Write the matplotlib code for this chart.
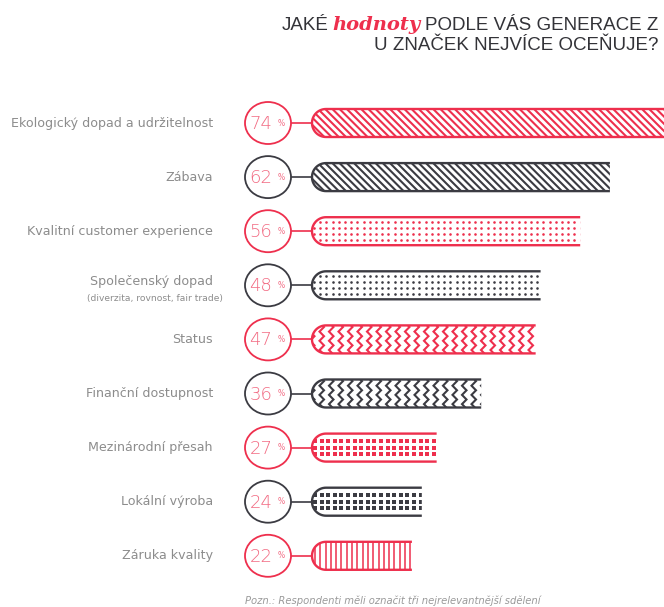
import numpy as np
import matplotlib
matplotlib.use("Agg")
import matplotlib.pyplot as plt
from matplotlib.path import Path
from matplotlib.patches import PathPatch, Ellipse
from matplotlib.collections import LineCollection

categories = ["Ekologický dopad a udržitelnost", "Zábava", "Kvalitní customer experience",
              "Společenský dopad", "Status", "Finanční dostupnost",
              "Mezinárodní přesah", "Lokální výroba", "Záruka kvality"]
values = [74, 62, 56, 48, 47, 36, 27, 24, 22]
sublabels = {3: "(diverzita, rovnost, fair trade)"}
patterns = ["diag", "diag", "dots", "dots", "zigzag", "zigzag", "grid", "grid", "vlines"]

RED = "#ee2f4d"
DARK = "#3b3b42"
PINK = "#f26a82"
GREY = "#8c8c8c"
row_colors = [RED, DARK] * 5

W, H = 664, 607
X0 = 303.0      # pixel of 0 %
SX = 4.95       # pixels per %
Y0 = 123.0      # pixel of first row
SY = 54.1       # pixels per row

fig = plt.figure(figsize=(W / 100, H / 100), dpi=100)
ax = fig.add_axes([0, 0, 1, 1])
ax.set_xlim(-X0 / SX, (W - X0) / SX)
ax.set_ylim((H - Y0) / SY, -Y0 / SY)
ax.axis("off")


def dx(p):
    return p / SX


def dy(p):
    return p / SY


bar_left = dx(9)
half_h = dy(14)
rx, ry = dx(14), dy(14)

for i, (v, c, pat) in enumerate(zip(values, row_colors, patterns)):
    top, bot = i - half_h, i + half_h
    cxl = bar_left + rx
    th = np.linspace(np.pi / 2, 3 * np.pi / 2, 30)
    arc = [(cxl + rx * np.cos(t), i - ry * np.sin(t)) for t in th]
    fill_pts = [(v, top)] + arc + [(v, bot), (v, top)]
    fill = PathPatch(Path(fill_pts, closed=True), facecolor="white", edgecolor="none", zorder=1)
    ax.add_patch(fill)

    # pattern inside the bar
    if pat == "diag":
        xs = np.arange(bar_left - dx(30), v + dx(5), dx(7.2))
        segs = [[(x, top), (x + dx(28), bot)] for x in xs]
        lc = LineCollection(segs, colors=c, linewidths=1.5, zorder=2)
        ax.add_collection(lc)
        lc.set_clip_path(fill)
    elif pat == "vlines":
        xs = np.arange(bar_left + dx(3), v, dx(5.3))
        segs = [[(x, top), (x, bot)] for x in xs]
        lc = LineCollection(segs, colors=c, linewidths=1.1, zorder=2)
        ax.add_collection(lc)
        lc.set_clip_path(fill)
    elif pat == "zigzag":
        ys = np.arange(top - dy(3), bot + dy(5), dy(4.6))
        for x in np.arange(bar_left - dx(2), v + dx(5), dx(9.5)):
            zx = [x + (dx(4.5) if j % 2 else 0) for j in range(len(ys))]
            ln, = ax.plot(zx, ys, color=c, lw=1.5, zorder=2, solid_joinstyle="miter")
            ln.set_clip_path(fill)
    elif pat == "dots":
        xs = np.arange(bar_left + dx(2), v + dx(3), dx(6.2))
        for yo in (-9, -3, 3, 9):
            sc = ax.scatter(xs, np.full_like(xs, i + dy(yo)), s=3.5, color=c, marker="o",
                            linewidths=0, zorder=2)
            sc.set_clip_path(fill)
    elif pat == "grid":
        xs = np.arange(bar_left + dx(3), v + dx(3), dx(6.6))
        for yo in (-6.5, 0, 6.5):
            sc = ax.scatter(xs, np.full_like(xs, i + dy(yo)), s=5.5, color=c, marker="s",
                            linewidths=0, zorder=2)
            sc.set_clip_path(fill)

    # outline: top, rounded left end, bottom; right end open
    out_pts = [(v, top)] + arc + [(v, bot)]
    ax.add_patch(PathPatch(Path(out_pts), facecolor="none", edgecolor=c, lw=1.7, zorder=3,
                           capstyle="butt"))

    # badge with value
    ecx = dx(268 - X0)
    ax.add_patch(Ellipse((ecx, i), dx(46), dy(42), facecolor="white", edgecolor=c,
                         lw=1.3, zorder=3))
    ax.plot([ecx + dx(23), bar_left], [i, i], color=c, lw=1.2, zorder=2)
    ax.text(ecx - dx(7), i + dy(1), str(v), ha="center", va="center", fontsize=13,
            color=PINK, family="DejaVu Sans", fontweight="light", zorder=4)
    ax.text(ecx + dx(13), i, "%", ha="center", va="center", fontsize=5.5,
            color=PINK, zorder=4)

    # category label
    lab_y = i - dy(4) if i in sublabels else i
    ax.text(dx(213 - X0), lab_y, categories[i], ha="right", va="center", fontsize=9.1,
            color=GREY, family="DejaVu Sans")
    if i in sublabels:
        ax.text(dx(223 - X0), i + dy(13), sublabels[i], ha="right", va="center",
                fontsize=6.6, color=GREY, family="DejaVu Sans")

# title, right aligned, with a red serif italic word
tsize = 13.5
fig.canvas.draw()
r = fig.canvas.get_renderer()
t3 = fig.text(658 / W, 1 - 30 / H, "PODLE VÁS GENERACE Z", ha="right", va="baseline",
              fontsize=tsize, color="#333338", family="Liberation Sans")
bb = t3.get_window_extent(r)
t2 = fig.text((bb.x0 - 4) / W, 1 - 30 / H, "hodnoty", ha="right", va="baseline",
              fontsize=tsize + 0.5, color=RED, family="DejaVu Serif", fontweight="bold",
              fontstyle="italic")
bb = t2.get_window_extent(r)
fig.text((bb.x0 - 4) / W, 1 - 30 / H, "JAKÉ", ha="right", va="baseline",
         fontsize=tsize, color="#333338", family="Liberation Sans")
fig.text(658 / W, 1 - 50 / H, "U ZNAČEK NEJVÍCE OCEŇUJE?", ha="right", va="baseline",
         fontsize=tsize, color="#333338", family="Liberation Sans")

fig.text(245 / W, 1 - 604 / H, "Pozn.: Respondenti měli označit tři nejrelevantnější sdělení",
         ha="left", va="baseline", fontsize=7.2, color="#9a9a9a", fontstyle="italic",
         family="DejaVu Sans")

fig.savefig("out.png", dpi=100)
